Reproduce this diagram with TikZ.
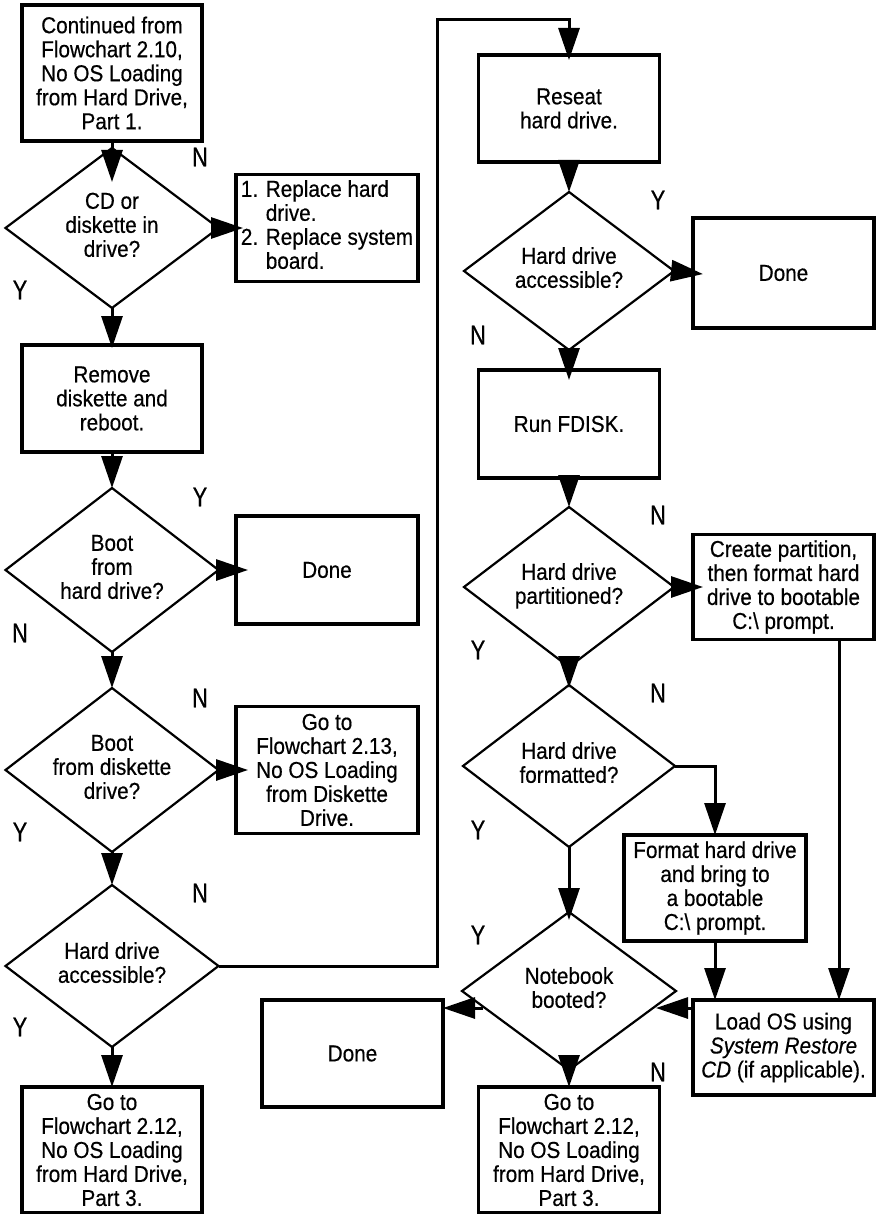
\documentclass[tikz,border=0pt]{standalone}
\usepackage{fontspec}
\setmainfont{Liberation Sans}[FakeStretch=0.9,FakeBold=0.5]
\newfontfamily\ynfont[FakeStretch=0.8,FakeBold=0.6]{Liberation Sans}
\usetikzlibrary{shapes.geometric,arrows.meta,calc}

\newcommand\txtsz{\fontsize{23}{24}\selectfont}
% diamond text: a centred zero-width box so the diamond keeps its set size
\newcommand\dtx[1]{\makebox[0pt]{\begin{tabular}{@{}c@{}}#1\end{tabular}}}

\begin{document}
\begin{tikzpicture}[x=1pt,y=-1pt,
  frame/.style={draw, line width=3.2pt, rectangle, inner sep=0pt, outer sep=0pt, font=\txtsz},
  box/.style={frame, align=center},
  dec/.style={draw, line width=2.2pt, diamond, inner sep=0pt, outer sep=0pt, font=\txtsz},
  flow/.style={line width=3pt, -{Triangle[length=32pt,width=21pt]}},
  yn/.style={font=\ynfont\fontsize{27}{27}\selectfont, inner sep=0pt}
]
\useasboundingbox (0,0) rectangle (876,1214);

% ---- left column ----
\node[box, minimum width=180pt, minimum height=136pt] (start) at (112,73)
  {Continued from\\Flowchart 2.10,\\No OS Loading\\from Hard Drive,\\Part 1.};
\node[dec, minimum width=213pt, minimum height=160pt] (cd) at (112,228)
  {\dtx{CD or\\diskette in\\drive?}};
\node[frame, minimum width=182pt, minimum height=107pt] (repl) at (327,228)
  {\begin{tabular}{@{}l@{ }l@{}}1. & Replace hard\\ & drive.\\ 2. & Replace system\\ & board.\end{tabular}};
\node[box, minimum width=180pt, minimum height=107pt] (rm) at (112,398.5)
  {Remove\\diskette and\\reboot.};
\node[dec, minimum width=213pt, minimum height=164pt] (hd) at (112,570)
  {\dtx{Boot\\from\\hard drive?}};
\node[box, minimum width=182pt, minimum height=108pt] (done1) at (327,570) {Done};
\node[dec, minimum width=213pt, minimum height=164pt] (dk) at (112,770)
  {\dtx{Boot\\from diskette\\drive?}};
\node[box, minimum width=182pt, minimum height=127pt] (go213) at (327,770)
  {Go to\\Flowchart 2.13,\\No OS Loading\\from Diskette\\Drive.};
\node[dec, minimum width=213pt, minimum height=162pt] (acc) at (112,966)
  {\dtx{Hard drive\\accessible?}};
\node[box, minimum width=180pt, minimum height=126pt] (go212a) at (112,1150)
  {Go to\\Flowchart 2.12,\\No OS Loading\\from Hard Drive,\\Part 3.};

% ---- right column ----
\node[box, minimum width=181pt, minimum height=107pt] (rs) at (569,108.5)
  {Reseat\\hard drive.};
\node[dec, minimum width=210pt, minimum height=158pt] (acc2) at (569,271)
  {\dtx{Hard drive\\accessible?}};
\node[box, minimum width=181pt, minimum height=110pt] (done2) at (783.5,273) {Done};
\node[box, minimum width=181pt, minimum height=108pt] (fd) at (569,424) {Run FDISK.};
\node[dec, minimum width=210pt, minimum height=160pt] (part) at (569,587)
  {\dtx{Hard drive\\partitioned?}};
\node[box, minimum width=181pt, minimum height=105pt] (cp) at (783.5,587)
  {Create partition,\\then format hard\\drive to bootable\\C:\textbackslash{} prompt.};
\node[dec, minimum width=212pt, minimum height=162pt] (fmtd) at (569,766)
  {\dtx{Hard drive\\formatted?}};
\node[box, minimum width=182pt, minimum height=106pt] (fmt) at (715,888)
  {Format hard drive\\and bring to\\a bootable\\C:\textbackslash{} prompt.};
\node[dec, minimum width=214pt, minimum height=158pt] (nb) at (569,991)
  {\dtx{Notebook\\booted?}};
\node[box, minimum width=181pt, minimum height=95pt] (lo) at (783.5,1047.5)
  {Load OS using\\\textit{System Restore}\\\textit{CD} (if applicable).};
\node[box, minimum width=181pt, minimum height=107pt] (done3) at (352.5,1053.5) {Done};
\node[box, minimum width=181pt, minimum height=126pt] (go212b) at (569,1150)
  {Go to\\Flowchart 2.12,\\No OS Loading\\from Hard Drive,\\Part 3.};

% ---- helper points ----
\coordinate (loopTop) at (437,20);
\coordinate (cpOut) at ($(cp.south west)+(146,0)$);
\coordinate (loIn) at ($(lo.north west)+(0,8)$);
\coordinate (nbR) at ($(nb.center)+(87,17)$);
\coordinate (nbL) at ($(nb.center)+(-86,17)$);

% ---- connectors, left column ----
\draw[flow, shorten >=-34pt] (start.south) -- (cd.north);
\draw[flow, shorten >=-7pt] (cd.east) -- (repl.west);
\draw[flow, shorten >=-3pt] (cd.south) -- (rm.north);
\draw[flow] (rm.south) -- (hd.north);
\draw[flow, shorten >=-12pt] (hd.east) -- (done1.west);
\draw[flow] (hd.south) -- (dk.north);
\draw[flow, shorten >=-12pt] (dk.east) -- (go213.west);
\draw[flow] (dk.south) -- (acc.north);
\draw[flow] (acc.south) -- (go212a.north);
\draw[flow, shorten >=-5pt] (acc.east) -| (loopTop) -| (rs.north);

% ---- connectors, right column ----
\draw[flow] (rs.south) -- (acc2.north);
\draw[flow, shorten >=-10pt] (acc2.east) -- (done2.west);
\draw[flow, shorten >=-10pt] (acc2.south) -- (fd.north);
\draw[flow] (fd.south) -- (part.north);
\draw[flow, shorten >=-10pt] (part.east) -- (cp.west);
\draw[flow, shorten >=-3pt] (part.south) -- (fmtd.north);
\draw[flow] (fmtd.east) -| (fmt.north);
\draw[flow, shorten >=-8pt] (fmtd.south) -- (nb.north);
\draw[flow] (fmt.south) -- (lo.north -| fmt.south);
\draw[flow] (cpOut) -- (cpOut |- lo.north);
\draw[flow] (loIn) -- (nbR);
\draw[flow] (nbL) -- (nbL -| done3.east);
\draw[flow] (nb.south) -- (go212b.north);

% ---- Y / N labels ----
\node[yn] (l1) at (200,157) {N};
\node[yn] (l2) at (20,290) {Y};
\node[yn] (l3) at (200,497) {Y};
\node[yn] (l4) at (20,633) {N};
\node[yn] (l5) at (200,698) {N};
\node[yn] (l6) at (20,832) {Y};
\node[yn] (l7) at (200,893) {N};
\node[yn] (l8) at (20,1027) {Y};
\node[yn] (l9) at (658,200) {Y};
\node[yn] (l10) at (478,335) {N};
\node[yn] (l11) at (658,515) {N};
\node[yn] (l12) at (478,650) {Y};
\node[yn] (l13) at (658,693) {N};
\node[yn] (l14) at (478,830) {Y};
\node[yn] (l15) at (478,935) {Y};
\node[yn] (l16) at (658,1072) {N};
\end{tikzpicture}
\end{document}
